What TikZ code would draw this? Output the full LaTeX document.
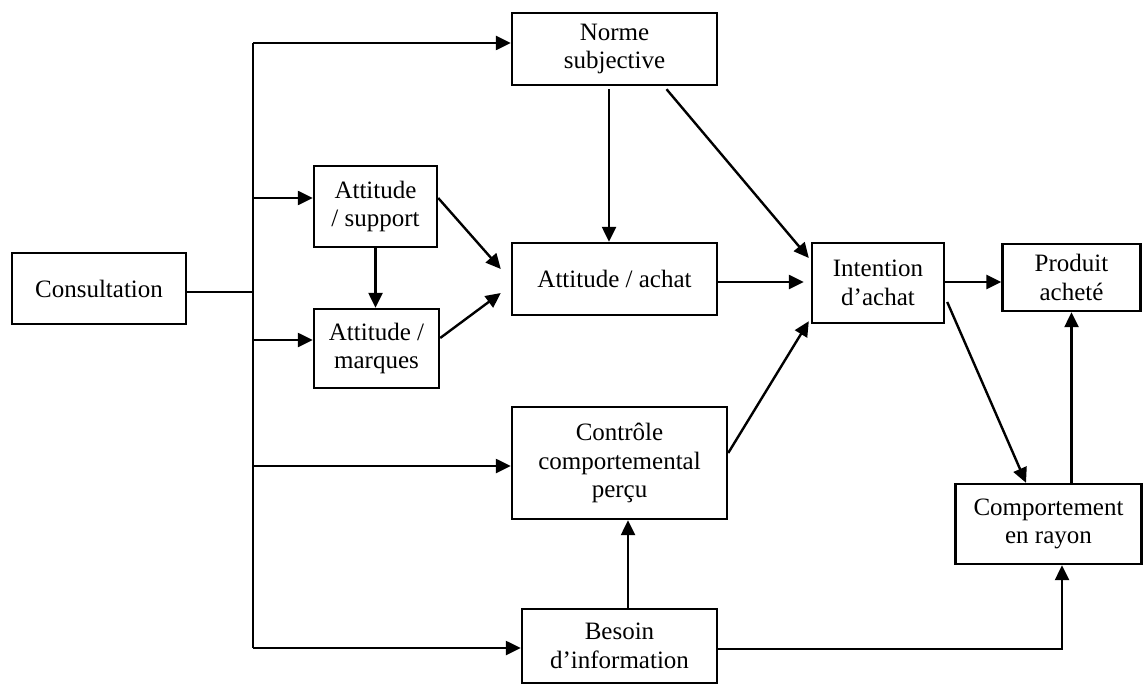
\documentclass[tikz,border=0pt]{standalone}
\usepackage{fontspec}
\setmainfont{Liberation Serif}
\usetikzlibrary{arrows.meta}
\usetikzlibrary{calc}

\begin{document}
\begin{tikzpicture}[
    x=0.5pt, y=-0.5pt,
    line width=1.2pt,
    bloc/.style={
        draw,
        align=center,
        inner sep=0pt,
        font=\fontsize{12.5}{14.2}\selectfont
    },
    fleche/.style={draw, -{Triangle[length=7.5pt,width=7pt]}}
]

\useasboundingbox (0,0) rectangle (1143,684);

% blocs
\node[bloc, minimum width=87pt, minimum height=35.5pt] (cons) at (99,288.5) {Consultation};
\node[bloc, minimum width=102.5pt, minimum height=36pt] (norme) at (614.5,49) {Norme\\subjective};
\node[bloc, minimum width=61.5pt, minimum height=40.5pt] (supp) at (375.5,206.5) {Attitude\\/ support};
\node[bloc, minimum width=62.5pt, minimum height=39.5pt] (marq) at (376.5,348.5) {Attitude /\\marques};
\node[bloc, minimum width=102.5pt, minimum height=36pt] (achat) at (614.5,279) {Attitude / achat};
\node[bloc, minimum width=107.5pt, minimum height=56pt] (ctrl) at (619.5,463) {Contrôle\\comportemental\\perçu};
\node[bloc, minimum width=97.5pt, minimum height=37pt] (besoin) at (619.5,646) {Besoin\\d’information};
\node[bloc, minimum width=66pt, minimum height=40pt] (inten) at (878,283) {Intention\\d’achat};
\node[bloc, minimum width=69pt, minimum height=33.5pt] (prod) at (1071.5,277.5) {Produit\\acheté};
\node[bloc, minimum width=93pt, minimum height=40pt] (comp) at (1048.5,524) {Comportement\\en rayon};

% tronc commun
\coordinate (thaut) at (253,43);
\coordinate (tcons) at (253,292);
\coordinate (tsupp) at (253,198);
\coordinate (tmarq) at (253,340);
\coordinate (tctrl) at (253,466);
\coordinate (tbas) at (253,648);

\draw (cons.east |- tcons) -- (tcons);
\draw (thaut) -- (tbas);
\draw[fleche] (thaut) -- (thaut -| norme.west);
\draw[fleche] (tsupp) -- (tsupp -| supp.west);
\draw[fleche] (tmarq) -- (tmarq -| marq.west);
\draw[fleche] (tctrl) -- (tctrl -| ctrl.west);
\draw[fleche] (tbas) -- (tbas -| besoin.west);

% attitudes
\draw[fleche] (supp.south) -- (supp.south |- marq.north);
\draw[fleche] ([yshift=4.25pt]supp.east) -- ([xshift=-5pt,yshift=5pt]achat.west);
\draw[fleche] ([yshift=5.25pt]marq.east) -- ([xshift=-5pt,yshift=-7pt]achat.west);
\draw[fleche, shorten <=1.5pt] ([xshift=-2.75pt]norme.south) -- ([xshift=-2.75pt]achat.north);

% vers l'intention
\draw[fleche] ([xshift=26pt,yshift=-1.5pt]norme.south) -- ([xshift=-1pt,yshift=12.5pt]inten.west);
\draw[fleche, shorten >=3.5pt] ([yshift=-1.5pt]achat.east) -- ([yshift=-1.5pt]achat.east -| inten.west);
\draw[fleche] ([yshift=5pt]ctrl.east) -- ([xshift=-1pt,yshift=1.5pt]inten.south west);

% comportement
\draw[fleche] ([yshift=0.5pt]inten.east) -- ([yshift=0.5pt]inten.east -| prod.west);
\draw[fleche] ([xshift=1pt,yshift=-9.5pt]inten.east) -- ([xshift=-11.25pt]comp.north);
\draw[fleche] (prod.south |- comp.north) -- (prod.south);
\draw[fleche] ([xshift=4.25pt]besoin.north) -- ([xshift=4.25pt]besoin.north |- ctrl.south);
\draw[fleche] ([yshift=-1.5pt]besoin.east) -| ([xshift=6.75pt]comp.south);

\end{tikzpicture}
\end{document}
